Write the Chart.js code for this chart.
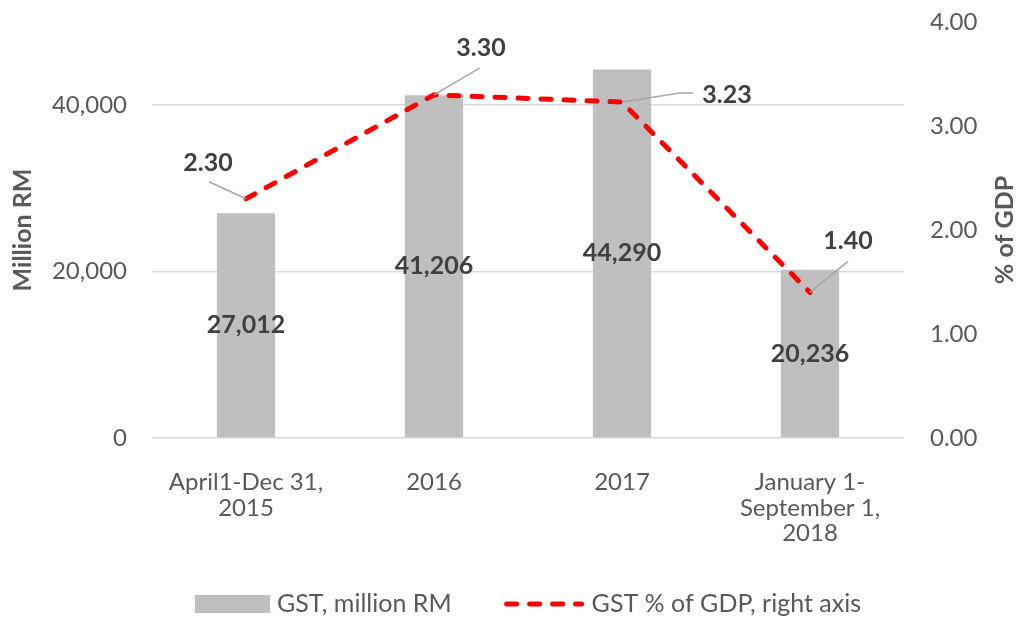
<!DOCTYPE html>
<html>
<head>
<meta charset="utf-8">
<script src="https://cdn.jsdelivr.net/npm/chart.js@4"></script>
<style>
  html, body { margin: 0; padding: 0; background: #fff; }
  #wrap { width: 1019px; height: 619px; }
</style>
</head>
<body>
<div id="wrap"><canvas id="gst-chart" width="1019" height="619"></canvas></div>
<script>
// Data
const categories = [
  ['April1-Dec 31,', '2015'],
  '2016',
  '2017',
  ['January 1-', 'September 1,', '2018']
];
const gstMillionRM = [27012, 41206, 44290, 20236];
const gstPctGDP = [2.30, 3.30, 3.23, 1.40];
const leftTicks = [0, 20000, 40000];

// Label offsets for the line values (text centre and leader path, relative to the point)
const lineLabelStyle = [
  { dx: -38, dy: -36, leader: [[-37, -17]] },
  { dx: 47, dy: -47, leader: [[46, -27]] },
  { dx: 105, dy: -7, leader: [[58, -9], [71, -9]] },
  { dx: 38, dy: -51, leader: [[38, -31]] }
];

const FONT = 'Lato, "Open Sans", sans-serif';
const GREY_TEXT = '#595959';
const LABEL_TEXT = '#404040';
const BAR_GREY = '#bfbfbf';
const RED = '#ff0000';

// draws value labels, axis titles and the legend
const decorPlugin = {
  id: 'decor',
  afterDatasetsDraw(chart) {
    const ctx = chart.ctx;
    ctx.save();
    ctx.font = 'bold 25px ' + FONT;
    ctx.fillStyle = LABEL_TEXT;
    ctx.textAlign = 'center';
    ctx.textBaseline = 'middle';

    // bar labels, centred in bar
    chart.getDatasetMeta(0).data.forEach((bar, i) => {
      ctx.fillText(gstMillionRM[i].toLocaleString('en-US'), bar.x, (bar.y + bar.base) / 2);
    });

    // line labels with leader lines
    chart.getDatasetMeta(1).data.forEach((pt, i) => {
      const s = lineLabelStyle[i];
      ctx.beginPath();
      ctx.strokeStyle = '#a6a6a6';
      ctx.lineWidth = 1.5;
      ctx.moveTo(pt.x, pt.y);
      s.leader.forEach(p => ctx.lineTo(pt.x + p[0], pt.y + p[1]));
      ctx.stroke();
      ctx.fillText(gstPctGDP[i].toFixed(2), pt.x + s.dx, pt.y + s.dy);
    });
    ctx.restore();
  },
  afterDraw(chart) {
    const ctx = chart.ctx;
    const area = chart.chartArea;
    const midY = (area.top + area.bottom) / 2;
    ctx.save();

    // axis titles
    ctx.font = 'bold 25px ' + FONT;
    ctx.fillStyle = GREY_TEXT;
    ctx.textAlign = 'center';
    ctx.textBaseline = 'middle';
    [[23, 'Million RM'], [1005, '% of GDP']].forEach(([x, t]) => {
      ctx.save();
      ctx.translate(x, midY);
      ctx.rotate(-Math.PI / 2);
      ctx.fillText(t, 0, 0);
      ctx.restore();
    });

    // legend
    ctx.font = '25px ' + FONT;
    ctx.textAlign = 'left';
    const t1 = 'GST, million RM';
    const t2 = 'GST % of GDP, right axis';
    const boxW = 75, lineW = 81, gap = 7, itemGap = 52;
    const w1 = ctx.measureText(t1).width;
    const w2 = ctx.measureText(t2).width;
    const total = boxW + gap + w1 + itemGap + lineW + gap + w2;
    let x = (area.left + area.right) / 2 - total / 2;
    const y = 604;
    ctx.fillStyle = BAR_GREY;
    ctx.fillRect(x, y - 9, boxW, 18);
    x += boxW + gap;
    ctx.fillStyle = GREY_TEXT;
    ctx.fillText(t1, x, y);
    x += w1 + itemGap;
    ctx.beginPath();
    ctx.strokeStyle = RED;
    ctx.lineWidth = 5;
    ctx.lineCap = 'round';
    ctx.setLineDash([10, 13]);
    ctx.moveTo(x + 3, y);
    ctx.lineTo(x + lineW - 3, y);
    ctx.stroke();
    ctx.setLineDash([]);
    x += lineW + gap;
    ctx.fillText(t2, x, y);
    ctx.restore();
  }
};

const data = {
  labels: categories,
  datasets: [
    {
      type: 'bar',
      label: 'GST, million RM',
      data: gstMillionRM,
      backgroundColor: BAR_GREY,
      yAxisID: 'y',
      barPercentage: 0.31,
      categoryPercentage: 1.0,
      order: 1
    },
    {
      type: 'line',
      label: 'GST % of GDP, right axis',
      data: gstPctGDP,
      borderColor: RED,
      borderWidth: 5,
      borderDash: [10, 13],
      borderCapStyle: 'round',
      pointRadius: 0,
      tension: 0,
      yAxisID: 'y1',
      order: 0
    }
  ]
};

// y axes: fixed width, no extra label padding above/below the plot
function fitY(width) {
  return function (scale) {
    scale.width = width;
    scale.paddingTop = 0;
    scale.paddingBottom = 0;
  };
}

const options = {
  responsive: false,
  animation: false,
  layout: { padding: { top: 22, left: 0, right: 0, bottom: 0 } },
  plugins: {
    legend: { display: false },
    tooltip: { enabled: false }
  },
  scales: {
    x: {
      grid: { display: false, drawTicks: false },
      border: { display: false },
      ticks: {
        color: GREY_TEXT,
        font: { family: FONT, size: 24, lineHeight: 1.05 },
        padding: 32,
        maxRotation: 0,
        autoSkip: false
      },
      afterFit(scale) { scale.height = 181; }
    },
    y: {
      position: 'left',
      min: 0,
      max: 50000,
      grid: { color: '#d9d9d9', lineWidth: 1.5, drawTicks: false },
      border: { display: false },
      afterBuildTicks(scale) {
        scale.ticks = leftTicks.map(v => ({ value: v }));
      },
      ticks: {
        color: GREY_TEXT,
        font: { family: FONT, size: 24 },
        padding: 25,
        callback: v => v.toLocaleString('en-US')
      },
      afterFit: fitY(152)
    },
    y1: {
      position: 'right',
      min: 0,
      max: 4,
      grid: { display: false, drawTicks: false },
      border: { display: false },
      ticks: {
        stepSize: 1,
        color: GREY_TEXT,
        font: { family: FONT, size: 24 },
        padding: 26,
        callback: v => v.toFixed(2)
      },
      afterFit: fitY(115)
    }
  }
};

const ctx = document.getElementById('gst-chart').getContext('2d');
const gstChart = new Chart(ctx, {
  data: data,
  options: options,
  plugins: [decorPlugin]
});
</script>
</body>
</html>
